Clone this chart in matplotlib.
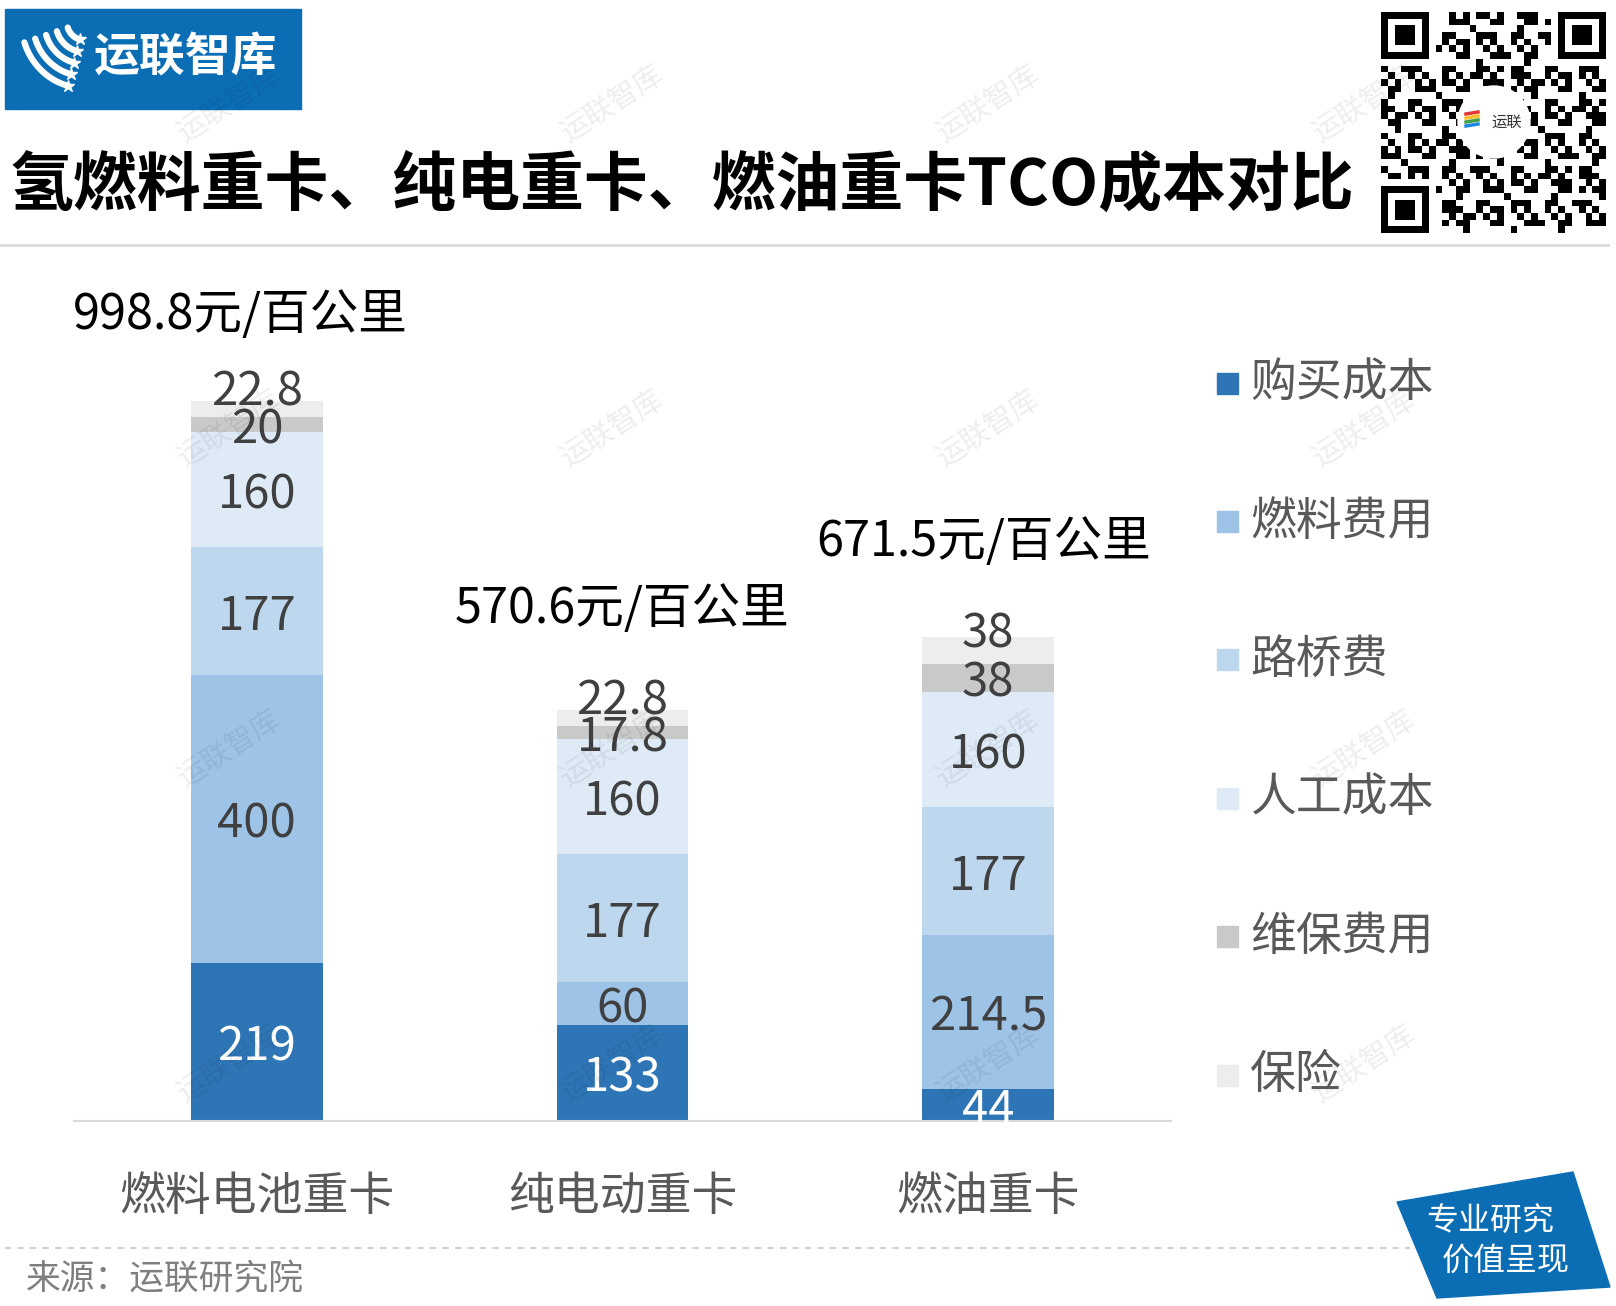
import matplotlib
matplotlib.use('Agg')
import matplotlib.pyplot as plt
from matplotlib.patches import Rectangle, Polygon, Circle
import numpy as np

plt.rcParams['font.family'] = ['Noto Sans CJK SC', 'DejaVu Sans']

# 数据
categories = ['燃料电池重卡', '纯电动重卡', '燃油重卡']
series_names = ['购买成本', '燃料费用', '路桥费', '人工成本', '维保费用', '保险']
purchase = [219, 133, 44]
fuel = [400, 60, 214.5]
toll = [177, 177, 177]
labor = [160, 160, 160]
maintenance = [20, 17.8, 38]
insurance = [22.8, 22.8, 38]
totals = [998.8, 570.6, 671.5]
colors = ['#2E75B6', '#9DC3E6', '#BDD7EE', '#DEEBF7', '#C9C9C9', '#EDEDED']

W, H = 1616, 1306
fig = plt.figure(figsize=(W / 100, H / 100), dpi=100)


def px(x0, y0, x1, y1):
    return [x0 / W, 1 - y1 / H, (x1 - x0) / W, (y1 - y0) / H]


ax = fig.add_axes(px(74, 328, 1171, 1121))
x = np.arange(len(categories))
series = [purchase, fuel, toll, labor, maintenance, insurance]
bottom = np.zeros(len(categories))
for i, (name, vals, c) in enumerate(zip(series_names, series, colors)):
    ax.bar(x, vals, 0.36, bottom=bottom, color=c, label=name, zorder=2)
    for xi, b, v in zip(x, bottom, vals):
        dy = 16 if i == len(series) - 1 else 0
        ax.annotate(f'{v:g}', (xi, b + v / 2), xytext=(0, dy),
                    textcoords='offset points', ha='center', va='center_baseline',
                    fontsize=34, color='white' if i == 0 else '#404040', zorder=3)
    bottom += np.array(vals)

# 合计标签 (偏移量, 单位 pt)
total_off = [(-12, 66), (0, 76), (-3, 72)]
for xi, t, (ox, oy) in zip(x, totals, total_off):
    ax.annotate(f'{t}元/百公里', (xi, t), xytext=(ox, oy), textcoords='offset points',
                ha='center', va='center_baseline', fontsize=35, color='black')

ax.set_xlim(-0.5, 2.5)
ax.set_ylim(0, 1100)
ax.set_yticks([])
ax.set_xticks(x, categories, fontsize=33, color='#595959')
ax.tick_params(axis='x', length=0, pad=37)
for s in ['top', 'left', 'right']:
    ax.spines[s].set_visible(False)
ax.spines['bottom'].set_color('#D9D9D9')
ax.spines['bottom'].set_linewidth(1.5)
ax.patch.set_alpha(0)

# 装饰层 (像素坐标)
ov = fig.add_axes([0, 0, 1, 1])
ov.set_xlim(0, W)
ov.set_ylim(H, 0)
ov.axis('off')

# 水印
for wy in [105, 430, 750, 1065]:
    for wx in [230, 613, 989, 1365]:
        ov.text(wx, wy, '运联智库', rotation=33, ha='center', va='center',
                fontsize=21, color='black', alpha=0.07)

# 左上角标志
ov.add_patch(Rectangle((5, 9), 296, 100, color='#0B6EB5'))
t = np.linspace(0.58 * np.pi, 0.9 * np.pi, 30)
for r in [18, 30, 42, 54, 66]:
    ov.plot(84 + r * np.cos(t) * 0.95, 22 + r * np.sin(t), color='white', lw=4.5,
            solid_capstyle='round')
    ov.plot(84 + r * np.cos(t[0]) * 0.95, 22 + r * np.sin(t[0]), marker='*',
            color='white', ms=9)
ov.text(186, 59, '运联智库', ha='center', va='center', fontsize=33,
        color='white', fontweight='bold')

# 标题
ov.text(10, 186, '氢燃料重卡、纯电重卡、燃油重卡TCO成本对比', ha='left',
        va='center', fontsize=46, fontweight='bold', color='black')
ov.plot([0, 1608], [245, 245], color='#D9D9D9', lw=2)

# 二维码
n = 33
ii, jj = np.mgrid[0:n, 0:n]
qr = (((ii * 7 + jj * 13 + ii * jj) % 5) < 2) | (((ii + 2 * jj) % 7) == 0)
qr = qr.astype(float)
for (r0, c0) in [(0, 0), (0, n - 7), (n - 7, 0)]:
    qr[max(r0 - 1, 0):r0 + 8, max(c0 - 1, 0):c0 + 8] = 0
    qr[r0:r0 + 7, c0:c0 + 7] = 1
    qr[r0 + 1:r0 + 6, c0 + 1:c0 + 6] = 0
    qr[r0 + 2:r0 + 5, c0 + 2:c0 + 5] = 1
ov.imshow(1 - qr, cmap='gray', extent=(1381, 1606, 233, 12), interpolation='nearest',
          vmin=0, vmax=1, zorder=1)
ov.add_patch(Circle((1494, 122), 36, color='white', zorder=2))
ov.text(1507, 122, '运联', ha='center', va='center', fontsize=11, color='#333333', zorder=3)
for k, cc in enumerate(['#E53935', '#FBC02D', '#43A047', '#1E88E5']):
    ov.plot([1466, 1478], [114 + k * 4, 112 + k * 4], color=cc, lw=2.5, zorder=3)

# 图例
for k, (name, c) in enumerate(zip(series_names, colors)):
    cy = 383 + k * 138.4
    ov.add_patch(Rectangle((1217, cy - 10.5), 21, 21, color=c))
    ov.text(1250, cy, name, ha='left', va='center', fontsize=33, color='#595959')

# 底部
ov.plot([5, 1410], [1248, 1248], color='#D0D0D0', lw=1.5, linestyle=(0, (3, 3)))
ov.text(26, 1280, '来源：运联研究院', ha='left', va='center', fontsize=25, color='#7F7F7F')
ov.add_patch(Polygon([(1397, 1202), (1573, 1172), (1610, 1287), (1437, 1298)],
                     closed=True, color='#0B6EB5'))
ov.text(1490, 1221, '专业研究', ha='center', va='center', fontsize=23, color='white')
ov.text(1506, 1261, '价值呈现', ha='center', va='center', fontsize=23, color='white')

fig.savefig('out.png', dpi=100)
